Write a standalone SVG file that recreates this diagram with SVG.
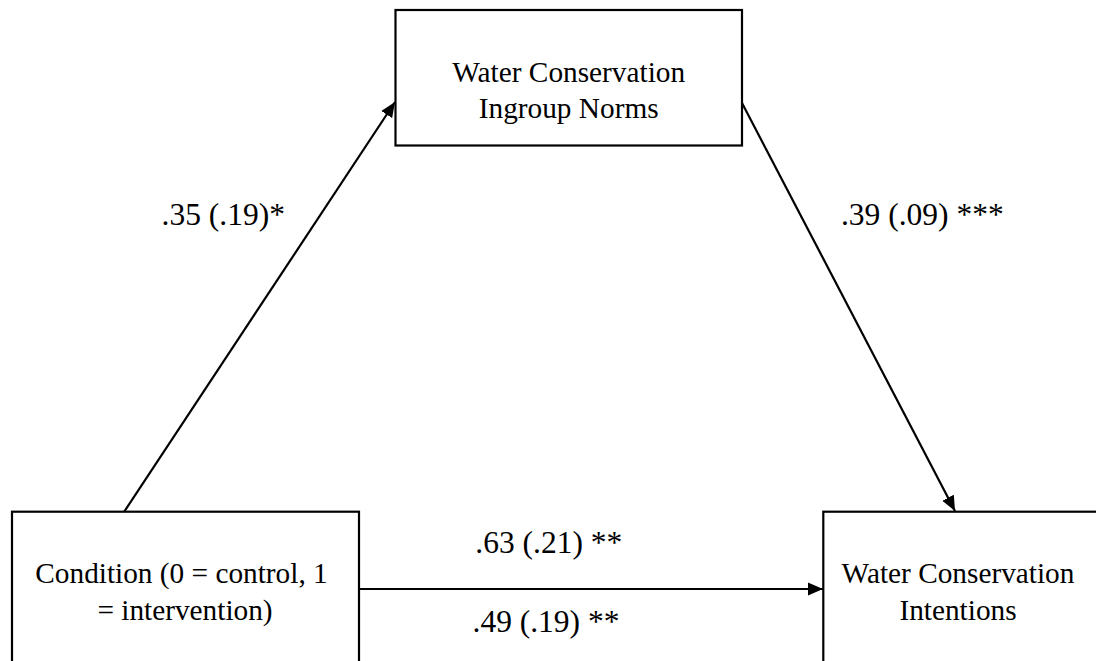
<svg xmlns="http://www.w3.org/2000/svg" width="1096" height="661" viewBox="0 0 1096 661">
<style>
.box{fill:#fff;stroke:#000;stroke-width:2.2}
.node{font-family:"Liberation Serif","Times New Roman",serif;font-size:29.3px;fill:#000;text-anchor:middle}
.lbl{font-family:"Liberation Serif","Times New Roman",serif;font-size:31.5px;fill:#000;text-anchor:middle}
.edge{stroke:#000;stroke-width:2.2;fill:none;marker-end:url(#arr)}
</style>
<defs>
<marker id="arr" markerUnits="userSpaceOnUse" markerWidth="16" markerHeight="14" refX="15" refY="6.5" orient="auto" viewBox="0 0 16 13">
<path d="M0,0 L15,6.5 L0,13 z" fill="#000"/>
</marker>
</defs>
<rect width="1096" height="661" fill="#fff"/>
<g id="connectors">
<line class="edge" x1="124" y1="512" x2="395" y2="102"/>
<line class="edge" x1="742" y1="103" x2="955" y2="511"/>
<line class="edge" x1="359" y1="589" x2="823" y2="589"/>
</g>
<g id="node-norms">
<rect class="box" x="395.5" y="10" width="346.5" height="135.5"/>
<text class="node" x="568.7" y="82">Water Conservation</text>
<text class="node" x="568.7" y="118">Ingroup Norms</text>
</g>
<g id="node-condition">
<rect class="box" x="12" y="511.7" width="347" height="200"/>
<text class="node" x="181.5" y="583">Condition (0 = control, 1</text>
<text class="node" x="185" y="620">= intervention)</text>
</g>
<g id="node-intentions">
<rect class="box" x="823.3" y="511.7" width="400" height="200"/>
<text class="node" x="958" y="583">Water Conservation</text>
<text class="node" x="958" y="620">Intentions</text>
</g>
<g id="labels">
<text class="lbl" x="223.3" y="225">.35 (.19)*</text>
<text class="lbl" x="922.3" y="225">.39 (.09) ***</text>
<text class="lbl" x="548.8" y="553">.63 (.21) **</text>
<text class="lbl" x="546" y="631.7">.49 (.19) **</text>
</g>
</svg>
